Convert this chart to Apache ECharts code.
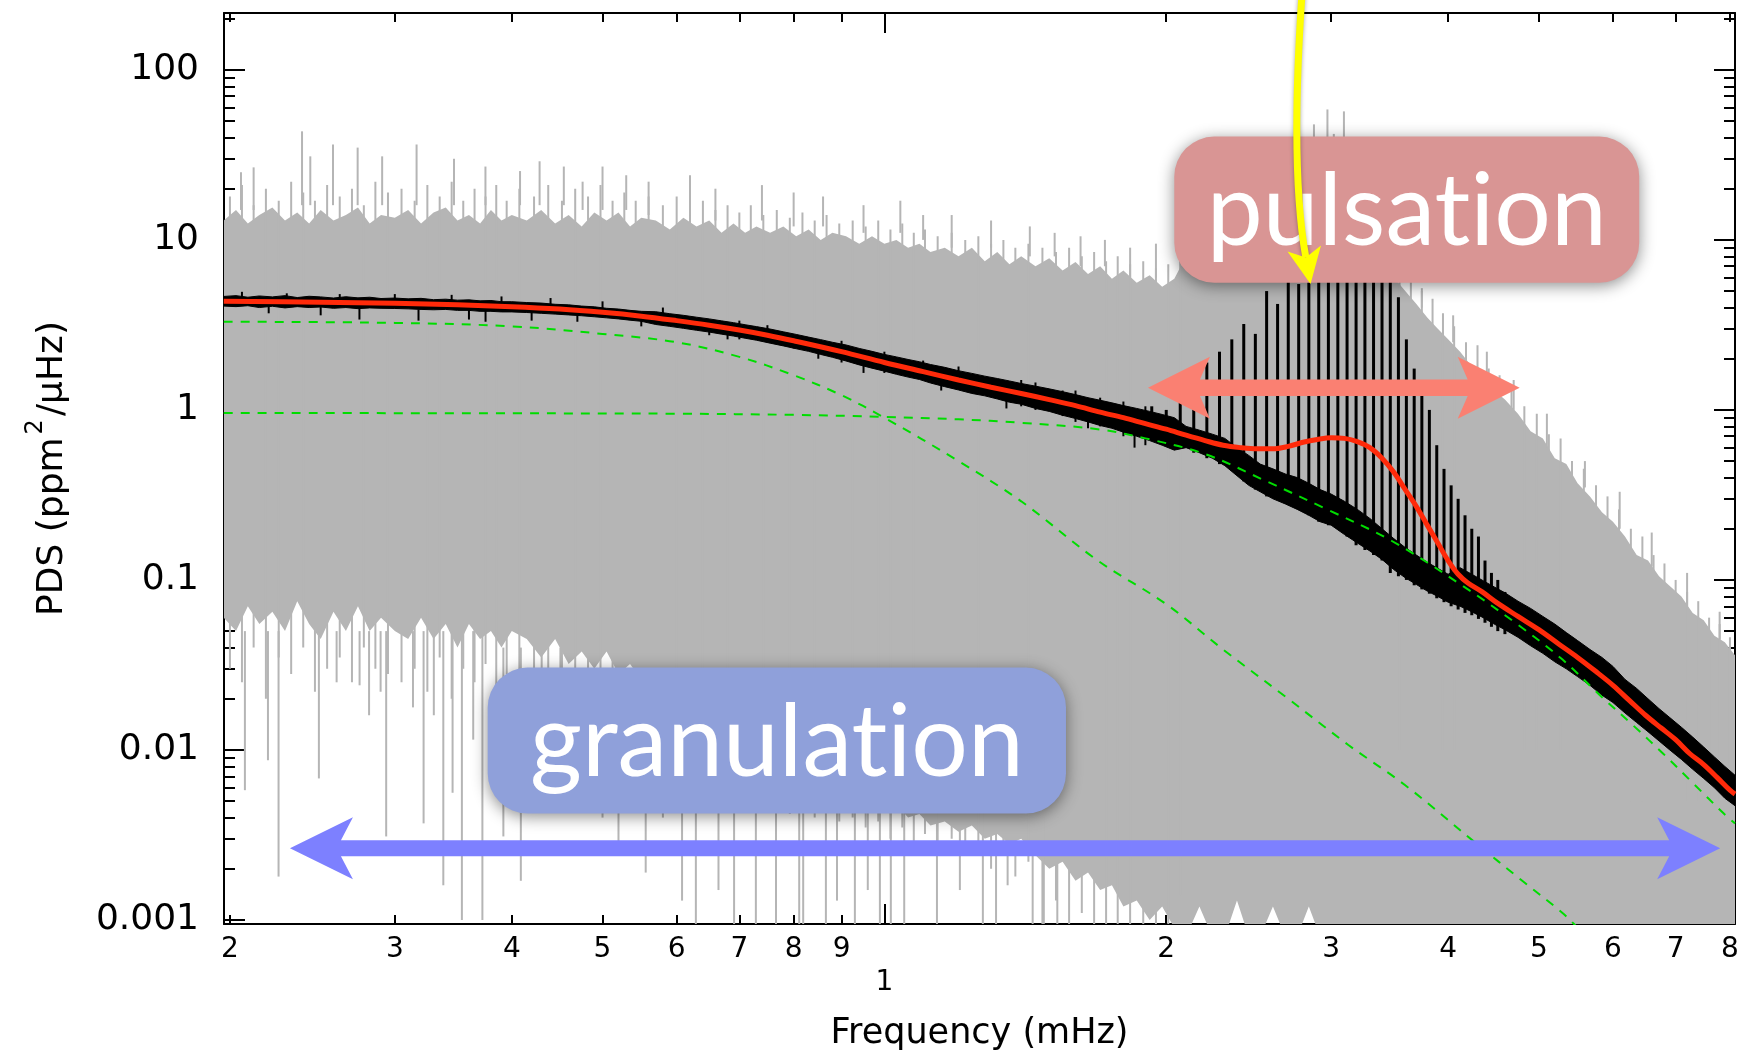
<!DOCTYPE html>
<html><head><meta charset="utf-8">
<script src="https://cdn.jsdelivr.net/npm/echarts@6/dist/echarts.min.js"></script>
<style>html,body{margin:0;padding:0;background:#fff}#c{width:1754px;height:1056px}</style>
</head><body><div id="c"></div>
<script>
// ---------------- DATA ----------------
const freq = [0.197,0.203,0.209,0.215,0.222,0.229,0.236,0.243,0.25,0.258,0.266,0.274,0.282,0.29,
0.3,0.31,0.32,0.33,0.34,0.35,0.36,0.37,0.38,0.39,0.4,
0.415,0.43,0.445,0.46,0.475,0.49,0.505,0.52,0.535,0.55,
0.57,0.59,0.61,0.63,0.65,0.67,0.69,0.71,0.73,
0.755,0.78,0.805,0.83,0.855,0.88,
0.91,0.94,0.97,1.0,1.03,1.06,1.09,1.12,
1.16,1.2,1.24,1.28,1.32,1.36,1.4,
1.45,1.5,1.55,1.6,1.65,1.7,1.75,1.8,
1.86,1.92,1.98,2.04,
2.1,2.17,2.24,2.31,2.38,2.45,2.52,
2.6,2.68,2.76,2.84,2.92,3.0,
3.1,3.2,3.3,3.4,3.5,3.6,3.7,3.8,3.9,4.0,
4.12,4.24,4.36,4.48,4.6,
4.75,4.9,5.05,5.2,5.35,5.5,
5.67,5.84,6.0,
6.18,6.36,6.54,6.72,6.9,
7.1,7.3,7.5,7.7,7.9,8.1];

// raw spectrum (gray): dense body top / bottom
const grayHi = [13,15,12.5,14,15.5,13,14.5,12.5,15,13,14,15.5,12.5,14,
13.5,15,12.5,14.5,15.5,13,14,12.5,15,13,14,
13,15,12.5,14,12,14.5,13,14.5,12,13.5,
13,11.5,13.5,12,13,11,12.5,11,12,
11,12,10.5,11.5,10,11,
10.5,9.5,10.5,9.5,10,9,9.5,8.5,
9,8,9,7.5,8.5,7.2,8,
7,7.8,6.6,7.4,6.3,7,5.9,6.6,
5.6,6.2,5.3,5.9,
8,10,9,12,10,13,11,
13,15,14,16,17,15,
14,12,10,8,6,5,4.2,3.5,3.0,2.6,
2.2,1.8,1.6,1.3,1.15,
0.95,0.75,0.68,0.52,0.48,0.37,
0.31,0.25,0.22,
0.18,0.14,0.13,0.105,0.092,
0.08,0.064,0.058,0.047,0.043,0.036];

const grayLo = [0.06,0.05,0.07,0.055,0.065,0.05,0.075,0.055,0.045,0.065,0.05,0.07,0.05,0.06,
0.05,0.045,0.06,0.045,0.055,0.04,0.055,0.045,0.05,0.04,0.05,
0.045,0.035,0.045,0.032,0.038,0.03,0.038,0.028,0.032,0.026,
0.024,0.019,0.022,0.016,0.018,0.013,0.015,0.011,0.012,
0.0095,0.008,0.0085,0.0068,0.0072,0.006,
0.0055,0.005,0.0052,0.0045,0.0048,0.004,0.0042,0.0036,
0.0038,0.0033,0.0036,0.003,0.0032,0.0028,0.003,
0.0024,0.002,0.0022,0.0017,0.0019,0.0015,0.0016,0.0012,
0.0013,0.001,0.0012,0.0009,
0.0008,0.0012,0.0008,0.0008,0.0013,0.0008,0.0008,
0.0012,0.0008,0.0008,0.0012,0.0008,0.0008,
0.0008,0.0008,0.0008,0.0008,0.0008,0.0008,0.0008,0.0008,0.0008,0.0008,
0.0008,0.0008,0.0008,0.0008,0.0008,
0.0008,0.0008,0.0008,0.0008,0.0008,0.0008,
0.0008,0.0008,0.0008,
0.0008,0.0008,0.0008,0.0008,0.0008,
0.0008,0.0008,0.0008,0.0008,0.0008,0.0008];

// individual raw-spectrum strokes between the body samples: [freq, bottom, top]
const grayGrass = [[0.2,0.03,18],[0.206,0.025,21],[0.212,0.04,16],[0.2185,0.02,20],[0.2255,0.035,17],[0.2325,0.028,22],
[0.2395,0.04,19],[0.2465,0.022,17],[0.254,0.03,21],[0.262,0.035,18],[0.27,0.025,20],[0.278,0.04,16],[0.286,0.03,22],[0.295,0.028,19],
[0.305,0.025,20],[0.315,0.03,17],[0.325,0.022,21],[0.335,0.035,18],[0.345,0.02,22],[0.355,0.03,17],[0.365,0.025,20],
[0.375,0.032,18],[0.385,0.02,21],[0.395,0.028,17],[0.4075,0.022,20],
[0.4225,0.02,18],[0.4375,0.025,21],[0.4525,0.016,17],[0.4675,0.022,20],[0.4825,0.014,18],[0.4975,0.02,21],[0.5125,0.013,17],
[0.5275,0.018,19],[0.5425,0.012,17],[0.56,0.015,18],
[0.58,0.01,16],[0.6,0.012,18],[0.62,0.008,15],[0.64,0.01,17],[0.66,0.007,15],[0.68,0.009,16],[0.7,0.006,14.5],[0.72,0.008,16],[0.7425,0.005,14],
[0.7675,0.005,15],[0.7925,0.0042,13.5],[0.8175,0.0055,14.5],[0.8425,0.004,13],[0.8675,0.0048,14],[0.895,0.0038,12.5],
[0.925,0.004,13],[0.955,0.0035,12],[0.985,0.0038,13],[1.015,0.003,11.5],[1.045,0.0035,12.5],[1.075,0.0028,11],[1.105,0.0032,11.5],[1.14,0.0026,10.5],
[1.18,0.003,11],[1.22,0.0024,10],[1.26,0.0027,10.5],[1.3,0.002,9.5],[1.34,0.0024,10],[1.38,0.0018,9],[1.425,0.0022,9.5],
[1.475,0.0009,9],[1.525,0.0013,8.5],[1.575,0.0009,9],[1.625,0.0011,8],[1.675,0.0009,8.5],[1.725,0.0009,7.5],[1.775,0.0009,8],[1.83,0.0009,7.2],
[1.89,0.0008,7.5],[1.95,0.0008,6.8],[2.01,0.0008,7.2],[2.07,0.0014,9],
[3.55,0.01,7],[3.65,0.01,6],[3.75,0.01,5],[3.85,0.01,4.5],[3.95,0.01,3.7],[4.06,0.01,3.1],
[4.18,0.01,2.5],[4.3,0.01,2.4],[4.42,0.01,1.75],[4.54,0.01,1.6],[4.675,0.01,1.3],
[4.825,0.01,1.05],[4.975,0.01,0.95],[5.125,0.01,0.72],[5.275,0.01,0.68],[5.425,0.01,0.5],[5.585,0.01,0.45],
[5.755,0.01,0.36],[5.92,0.01,0.31],[6.09,0.01,0.26],
[6.27,0.005,0.2],[6.45,0.005,0.18],[6.63,0.005,0.14],[6.81,0.005,0.125],[7.0,0.005,0.1],
[7.2,0.005,0.085],[7.4,0.005,0.075],[7.6,0.005,0.06],[7.8,0.005,0.055],[8.0,0.005,0.046]];

// tall single gray spikes: [freq, base, top]
const grayUpSpikes = [[0.2055,15,25],[0.212,15,26.7],[0.2388,16,43.5],[0.2437,16,31],[0.2577,16,36.4],[0.2738,16,34.9],
[0.2908,16,31],[0.3165,16,36.4],[0.347,16,30],[0.3749,16,27],[0.4082,16,25.4],[0.4283,16,29],[0.4546,16,27],[0.4761,15,22],
[0.50,15,27],[0.53,15,24],[0.56,14,22],[0.62,14,24],[0.66,13,20],[0.74,13,21],[0.8,12,19],[0.86,12,18],[0.95,11,16],
[1.04,11,17],[1.1,10,14],[1.18,9,14],[1.3,9,13],[1.43,8,12],[1.52,8,11],[1.62,7,10.5],[1.72,7,10],[1.83,6,9],[1.95,6,9.5],
[2.77,15,42],[2.876,15,47.8],[2.973,15,58.5],[3.02,15,42],[3.096,15,57],
[3.75,4,5.2],[4.05,2.5,3.6],[4.4,1.5,2.2],[4.7,1,1.5],[5.1,0.6,0.95],[5.6,0.35,0.5],[6.1,0.2,0.33],[6.6,0.12,0.19],[7.2,0.07,0.11],[7.8,0.045,0.065]];

// deep single gray dips: [freq, bottom, top]
const grayDips = [[0.2075,0.0058,0.05],[0.2196,0.0087,0.05],[0.2254,0.0018,0.05],[0.2489,0.0068,0.05],[0.26,0.025,0.05],
[0.2751,0.024,0.05],[0.2816,0.016,0.05],[0.2897,0.022,0.05],[0.2937,0.0031,0.05],[0.3137,0.0178,0.05],[0.322,0.0037,0.05],
[0.3302,0.016,0.05],[0.338,0.0016,0.05],[0.3458,0.0056,0.05],[0.3538,0.001,0.05],[0.3638,0.0115,0.05],[0.3721,0.001,0.05],
[0.3918,0.0031,0.04],[0.409,0.0017,0.04],[0.4305,0.0105,0.04],[0.4508,0.0051,0.04],[0.4761,0.0071,0.03],
[0.5,0.004,0.03],[0.52,0.0025,0.03],[0.54,0.006,0.03],[0.556,0.0019,0.03],[0.58,0.004,0.02],[0.608,0.0013,0.02],
[0.629,0.0009,0.02],[0.665,0.0015,0.02],[0.691,0.0009,0.02],[0.729,0.0009,0.015],[0.766,0.0009,0.012],[0.811,0.0009,0.012],
[0.819,0.0009,0.012],[0.866,0.0009,0.01],[0.89,0.0013,0.01],[0.93,0.0009,0.008],[0.96,0.0015,0.008],[0.989,0.0009,0.008],
[1.016,0.0009,0.008],[1.05,0.0009,0.006],[1.138,0.0009,0.005],[1.204,0.0015,0.005],[1.274,0.0009,0.005],[1.316,0.0009,0.005],
[1.354,0.0016,0.004],[1.44,0.0009,0.004],[1.48,0.0009,0.004],[1.53,0.0009,0.004]];

// smoothed spectrum (black): body top / bottom
const blackHi = [4.65,4.7,4.6,4.68,4.62,4.7,4.58,4.66,4.62,4.55,4.63,4.56,4.6,4.52,
4.55,4.5,4.53,4.45,4.48,4.42,4.44,4.38,4.4,4.33,4.33,
4.28,4.25,4.18,4.15,4.08,4.04,3.96,3.92,3.85,3.8,
3.78,3.68,3.6,3.51,3.43,3.34,3.26,3.17,3.09,
2.99,2.88,2.78,2.68,2.59,2.5,
2.41,2.3,2.21,2.12,2.05,1.98,1.92,1.85,
1.78,1.7,1.64,1.58,1.53,1.48,1.43,
1.38,1.33,1.28,1.23,1.18,1.14,1.1,1.06,
1.02,0.98,0.94,0.9,
0.8,0.76,0.72,0.68,0.6,0.54,0.48,
0.45,0.42,0.4,0.37,0.34,0.32,
0.29,0.26,0.23,0.2,0.175,0.155,0.14,0.127,0.117,0.108,
0.118,0.108,0.099,0.091,0.084,
0.075,0.068,0.061,0.055,0.049,0.044,
0.039,0.035,0.031,
0.026,0.023,0.02,0.0175,0.0155,
0.0136,0.0119,0.0104,0.0091,0.008,0.0071];

const blackLo = [4.08,4.05,4.1,4.0,4.07,3.98,4.05,4.0,4.03,3.96,4.0,3.94,3.98,3.96,
3.95,3.93,3.9,3.88,3.9,3.85,3.85,3.8,3.8,3.77,3.77,
3.74,3.7,3.66,3.62,3.58,3.53,3.48,3.43,3.37,3.32,
3.18,3.1,3.02,2.94,2.87,2.79,2.72,2.64,2.57,
2.47,2.38,2.29,2.21,2.12,2.04,
1.94,1.84,1.76,1.69,1.62,1.56,1.51,1.44,
1.37,1.31,1.25,1.21,1.16,1.11,1.08,
1.02,0.98,0.93,0.89,0.85,0.81,0.78,0.74,
0.7,0.66,0.62,0.58,
0.6,0.56,0.52,0.47,0.41,0.36,0.33,
0.3,0.28,0.26,0.24,0.22,0.21,
0.185,0.165,0.148,0.132,0.115,0.103,0.094,0.086,0.08,0.074,
0.07,0.065,0.06,0.055,0.051,
0.046,0.041,0.037,0.033,0.03,0.027,
0.024,0.021,0.019,
0.0165,0.0145,0.0128,0.0113,0.01,
0.0088,0.0077,0.0068,0.006,0.0052,0.0047];

// narrow excursions of the smoothed spectrum: [freq, bottom, top]
const blackHairs = [[0.206,4.2,4.95],[0.22,3.7,4.2],[0.23,4.2,4.85],[0.25,3.6,4.2],[0.262,4.1,4.8],[0.275,3.4,4.0],[0.3,4.0,4.8],
[0.318,3.35,3.9],[0.345,4.0,4.75],[0.36,3.4,3.95],[0.375,3.3,3.9],[0.39,3.9,4.65],[0.42,3.35,3.9],[0.44,3.8,4.55],
[0.47,3.3,3.7],[0.5,3.6,4.35],[0.55,3.1,3.5],[0.58,3.4,4.0],[0.65,2.75,3.2],[0.68,2.6,3.0],[0.7,2.6,3.35],[0.75,2.5,3.15],
[0.8,2.3,2.75],[0.85,2.0,2.3],[0.9,1.9,2.55],[0.95,1.65,1.9],[1.0,1.65,2.2],[1.1,1.5,1.95],[1.15,1.3,1.5],[1.2,1.35,1.8],
[1.3,1.2,1.55],[1.35,1.02,1.2],[1.4,1.05,1.5],[1.45,1.0,1.45],[1.55,0.92,1.3],[1.6,0.85,1.3],[1.65,0.78,0.9],[1.7,0.8,1.18],
[1.8,0.7,1.12],[1.85,0.6,0.75],[1.9,0.62,1.05]];

// p-mode comb of the smoothed spectrum: [freq, trough, peak]
const modes = [[1.93,0.7,1.05],[2.0,0.64,1.0],[2.07,0.6,1.2],[2.14,0.56,1.3],[2.21,0.52,1.9],[2.28,0.48,2.2],[2.35,0.44,2.6],
[2.42,0.38,3.2],[2.49,0.34,2.8],[2.56,0.31,5.0],[2.63,0.3,4.2],[2.7,0.28,6.5],[2.77,0.26,5.5],[2.84,0.24,7],[2.91,0.22,6],
[2.98,0.21,8],[3.05,0.2,6.5],[3.12,0.18,8],[3.19,0.16,6],[3.26,0.15,7],[3.33,0.14,5.8],[3.4,0.13,6.2],[3.47,0.11,5.7],
[3.54,0.105,4.6],[3.61,0.1,2.6],[3.68,0.093,1.75],[3.75,0.088,1.45],[3.82,0.083,1.0],[3.89,0.078,0.62],[3.96,0.074,0.45],
[4.03,0.07,0.36],[4.1,0.067,0.3],[4.17,0.064,0.24],[4.24,0.062,0.2],[4.31,0.059,0.18],[4.38,0.056,0.13],[4.45,0.053,0.11],
[4.52,0.05,0.1],[4.6,0.048,0.085]];

// global fit (red)
const redF = [0.197,0.25,0.3,0.35,0.4,0.45,0.5,0.55,0.6,0.65,0.7,0.75,0.8,0.9,1.0,1.1,1.2,1.3,1.4,1.5,1.6,1.7,1.8,1.9,2.0,
2.1,2.2,2.3,2.4,2.5,2.6,2.7,2.8,2.9,3.0,3.1,3.2,3.3,3.4,3.5,3.6,3.7,3.8,3.9,4.0,4.1,4.2,4.35,4.5,4.75,5.0,5.25,5.5,5.75,
6.0,6.25,6.5,6.75,7.0,7.25,7.5,7.75,8.0,8.1];
const redV = [4.36,4.3,4.24,4.15,4.05,3.92,3.75,3.56,3.35,3.15,2.95,2.75,2.55,2.2,1.9,1.68,1.5,1.36,1.25,1.15,1.06,0.97,0.9,0.83,0.77,
0.71,0.66,0.62,0.6,0.59,0.59,0.61,0.645,0.67,0.685,0.68,0.65,0.6,0.52,0.43,0.34,0.27,0.21,0.165,0.13,0.108,0.096,0.085,0.074,0.061,
0.051,0.042,0.035,0.029,0.024,0.0195,0.016,0.0135,0.0115,0.0095,0.0082,0.0069,0.0058,0.0055];

// granulation components (green dashed)
const g1F = [0.197,0.3,0.4,0.5,0.6,0.7,0.8,0.9,1.0,1.2,1.4,1.69,2.0,2.3,2.7,3.13,3.6,4.26,4.8,5.3,5.5];
const g1V = [3.3,3.25,3.1,2.8,2.5,2.05,1.6,1.22,0.9,0.5,0.29,0.13,0.072,0.039,0.02,0.0107,0.0062,0.0029,0.0017,0.0011,0.0009];
const g2F = [0.197,0.4,0.6,0.8,1.0,1.2,1.4,1.69,1.9,2.2,2.56,2.97,3.48,4.15,4.74,5.3,5.81,6.3,6.79,7.3,7.89,8.1];
const g2V = [0.96,0.955,0.95,0.935,0.91,0.88,0.84,0.77,0.68,0.55,0.38,0.26,0.17,0.092,0.055,0.034,0.021,0.014,0.0095,0.0064,0.0042,0.0037];

// axes
const X_MIN = 0.1971, X_MAX = 8.1, Y_MIN = 0.000947, Y_MAX = 216;
const xMinorTicks = [0.2,0.3,0.4,0.5,0.6,0.7,0.8,0.9,2,3,4,5,6,7,8];
const xMajorTicks = [1];
const xLabelValues = [0.2,0.3,0.4,0.5,0.6,0.7,0.8,0.9,1,2,3,4,5,6,7,8];
const xTickLabels = ['2','3','4','5','6','7','8','9','\n1','2','3','4','5','6','7','8'];
const yTickValues = [0.001,0.01,0.1,1,10,100];
const yTickLabels = ['0.001','0.01','0.1','1','10','100'];
const yMinorTicks = [0.002,0.003,0.004,0.005,0.006,0.007,0.008,0.009,0.02,0.03,0.04,0.05,0.06,0.07,0.08,0.09,
0.2,0.3,0.4,0.5,0.6,0.7,0.8,0.9,2,3,4,5,6,7,8,9,20,30,40,50,60,70,80,90,200];

// annotations (anchored in data units)
const pulsBox = {f:[2.04,6.4], v:[40.5,5.6], text:'pulsat\u200Cion'};
const granBox = {f:[0.377,1.563], v:[0.0305,0.00423], text:'granulat\u200Cion'};
const pulsArrow = {f:[1.912,4.77], v:1.35};
const granArrow = {f:[0.2318,7.81], v:0.00264};
const yellowArrow = {start:[2.792,274], ctrl:[2.712,26.1], tip:[2.852,5.5]};

// ---------------- CHART ----------------
const FONT = 'DejaVu Sans';
const chart = echarts.init(document.getElementById('c'), null, {renderer:'canvas', width:1754, height:1056});

function pick(vals, labels) {
  return function (v) {
    for (let i = 0; i < vals.length; i++) if (Math.abs(Math.log(v / vals[i])) < 1e-6) return labels[i];
    return '';
  };
}
function bandRenderer(F, HI, LO, fill, stroke) {
  return function (params, api) {
    if (params.dataIndex !== 0) return null;
    const pts = [];
    for (let i = 0; i < F.length; i++) pts.push(api.coord([F[i], HI[i]]));
    for (let i = F.length - 1; i >= 0; i--) pts.push(api.coord([F[i], LO[i]]));
    return {type:'polygon', shape:{points:pts}, style:{fill:fill, stroke:stroke || null, lineWidth:stroke ? 1 : 0}, silent:true};
  };
}
function segRenderer(color, width) {
  return function (params, api) {
    const a = api.coord([api.value(0), api.value(1)]);
    const b = api.coord([api.value(0), api.value(2)]);
    return {type:'line', shape:{x1:a[0], y1:a[1], x2:b[0], y2:b[1]}, style:{stroke:color, lineWidth:width}, silent:true};
  };
}
const zipXY = (F, V) => F.map((f, i) => [f, V[i]]);
const GRAY = '#b5b5b5';
const tickStyle = {color:'#000', width:2};

function xAx(position, ticks, len, line, labels) {
  return {
    type:'log', logBase:10, min:X_MIN, max:X_MAX, position:position,
    axisLine:{show:line, onZero:false, lineStyle:{color:'#000', width:2}},
    axisTick:{show:true, inside:true, length:len, customValues:ticks, lineStyle:tickStyle},
    axisLabel: labels ? {show:true, customValues:xLabelValues, formatter:pick(xLabelValues, xTickLabels), color:'#000',
      fontSize:28, fontFamily:FONT, margin:9, lineHeight:33, interval:0, verticalAlign:'top'} : {show:false},
    splitLine:{show:false}, minorTick:{show:false},
    name: labels ? 'Frequency (mHz)' : '', nameLocation:'middle', nameGap:92,
    nameTextStyle:{fontSize:35, fontFamily:FONT, color:'#000'}
  };
}
function yAx(position, ticks, len, line, labels) {
  return {
    type:'log', logBase:10, min:Y_MIN, max:Y_MAX, position:position,
    axisLine:{show:line, onZero:false, lineStyle:{color:'#000', width:2}},
    axisTick:{show:true, inside:true, length:len, customValues:ticks, lineStyle:tickStyle},
    axisLabel: labels ? {show:true, customValues:yTickValues, formatter:pick(yTickValues, yTickLabels), color:'#000',
      fontSize:36, fontFamily:FONT, margin:25, interval:0} : {show:false},
    splitLine:{show:false}, minorTick:{show:false},
    name: labels ? 'PDS (ppm{sup|2}/μHz)' : '', nameLocation:'middle', nameGap:142, nameRotate:90,
    nameTextStyle:{fontSize:36, fontFamily:FONT, color:'#000',
      rich:{sup:{fontSize:24, fontFamily:FONT, color:'#000', verticalAlign:'top', padding:[0,3,34,3]}}}
  };
}

const option = {
  animation:false,
  backgroundColor:'#fff',
  grid:{left:224, right:19, top:13, bottom:131, containLabel:false},
  xAxis:[xAx('bottom', xMinorTicks, 9, true, true), xAx('bottom', xMajorTicks, 20, false, false),
         xAx('top', xMinorTicks, 9, true, false), xAx('top', xMajorTicks, 20, false, false)],
  yAxis:[yAx('left', yTickValues, 21, true, true), yAx('left', yMinorTicks, 11, false, false),
         yAx('right', yTickValues, 21, true, false), yAx('right', yMinorTicks, 11, false, false)],
  series:[
    {type:'custom', name:'raw', clip:true, renderItem:bandRenderer(freq, grayHi, grayLo, GRAY),
     data:freq.map((f, i) => [f, grayLo[i], grayHi[i]]), encode:{x:0, y:[1,2]}, z:1},
    {type:'custom', name:'rawStrokes', clip:true, renderItem:segRenderer(GRAY, 2),
     data:grayGrass, encode:{x:0, y:[1,2]}, z:1},
    {type:'custom', name:'rawUp', clip:true, renderItem:segRenderer(GRAY, 2),
     data:grayUpSpikes, encode:{x:0, y:[1,2]}, z:1},
    {type:'custom', name:'rawDown', clip:true, renderItem:segRenderer(GRAY, 2),
     data:grayDips, encode:{x:0, y:[1,2]}, z:1},
    {type:'custom', name:'smooth', clip:true, renderItem:bandRenderer(freq, blackHi, blackLo, '#000', '#000'),
     data:freq.map((f, i) => [f, blackLo[i], blackHi[i]]), encode:{x:0, y:[1,2]}, z:2},
    {type:'custom', name:'smoothHairs', clip:true, renderItem:segRenderer('#000', 2),
     data:blackHairs, encode:{x:0, y:[1,2]}, z:2},
    {type:'custom', name:'modes', clip:true, renderItem:segRenderer('#000', 3),
     data:modes, encode:{x:0, y:[1,2]}, z:2},
    {type:'line', name:'gran1', data:zipXY(g1F, g1V), showSymbol:false, symbol:'none', smooth:0.35, clip:true,
     lineStyle:{color:'#00dd00', width:2, type:[9,8]}, z:3},
    {type:'line', name:'gran2', data:zipXY(g2F, g2V), showSymbol:false, symbol:'none', smooth:0.35, clip:true,
     lineStyle:{color:'#00dd00', width:2, type:[9,8]}, z:3},
    {type:'line', name:'fit', data:zipXY(redF, redV), showSymbol:false, symbol:'none', smooth:0.35, clip:true,
     lineStyle:{color:'#ff2a0a', width:5}, z:4}
  ]
};
chart.setOption(option);

// ---------------- ANNOTATIONS ----------------
const P = (f, v) => chart.convertToPixel({xAxisIndex:0, yAxisIndex:0}, [f, v]);
function dblArrow(xL, xR, y, t, L, W, n) {
  return [[xL,y],[xL+L,y-W],[xL+L-n,y-t],[xR-L+n,y-t],[xR-L,y-W],[xR,y],[xR-L,y+W],[xR-L+n,y+t],[xL+L-n,y+t],[xL+L,y+W]];
}
function boxEls(b, color) {
  const a = P(b.f[0], b.v[0]), c = P(b.f[1], b.v[1]);
  return [
    {type:'rect', z:100, shape:{x:a[0], y:a[1], width:c[0]-a[0], height:c[1]-a[1], r:40},
     style:{fill:color, shadowBlur:16, shadowColor:'rgba(0,0,0,0.45)', shadowOffsetX:0, shadowOffsetY:3}},
    {type:'text', z:101, x:(a[0]+c[0])/2, y:a[1]+76,
     style:{text:b.text, fill:'#fff', font:'400 100px Lato', align:'center', verticalAlign:'middle',
            textAlign:'center', textVerticalAlign:'middle'}}
  ];
}
const gfx = [];
gfx.push(...boxEls(granBox, '#8fa0da'));
gfx.push(...boxEls(pulsBox, '#d99594'));
{
  const l = P(pulsArrow.f[0], pulsArrow.v), r = P(pulsArrow.f[1], pulsArrow.v);
  gfx.push({type:'polygon', z:102, shape:{points:dblArrow(l[0], r[0], l[1], 8.3, 62, 31, 10)}, style:{fill:'#fa8072'}});
}
{
  const l = P(granArrow.f[0], granArrow.v), r = P(granArrow.f[1], granArrow.v);
  gfx.push({type:'polygon', z:102, shape:{points:dblArrow(l[0], r[0], l[1], 8, 63, 31, 12)}, style:{fill:'#7d80ff'}});
}
{
  const s = P(yellowArrow.start[0], yellowArrow.start[1]);
  const c = P(yellowArrow.ctrl[0], yellowArrow.ctrl[1]);
  const t = P(yellowArrow.tip[0], yellowArrow.tip[1]);
  const dx = t[0] - c[0], dy = t[1] - c[1], len = Math.hypot(dx, dy);
  const ux = dx / len, uy = dy / len, px = -uy, py = ux;
  const L = 36, W = 17, n = 9;
  const back = [t[0] - ux * L, t[1] - uy * L];
  const notch = [t[0] - ux * (L - n), t[1] - uy * (L - n)];
  gfx.push({type:'bezierCurve', z:103, shape:{x1:s[0], y1:s[1], x2:notch[0], y2:notch[1], cpx1:c[0], cpy1:c[1]},
    style:{stroke:'#ffff00', lineWidth:7, fill:null, shadowBlur:4, shadowColor:'rgba(0,0,0,0.35)'}});
  gfx.push({type:'polygon', z:104, shape:{points:[t, [back[0] + px * W, back[1] + py * W], notch, [back[0] - px * W, back[1] - py * W]]},
    style:{fill:'#ffff00'}});
}
chart.setOption({graphic:{elements:gfx}});
</script>
</body></html>
